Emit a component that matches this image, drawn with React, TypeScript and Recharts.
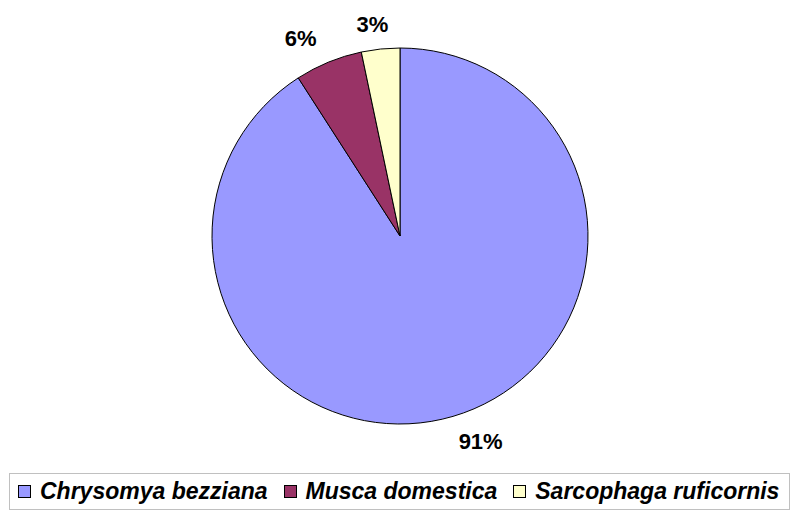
import React from "react";
import { PieChart, Pie, Cell, Legend } from "recharts";

const species = ["Chrysomya bezziana", "Musca domestica", "Sarcophaga ruficornis"];
const shares = [90.9, 5.8, 3.3];
const colors = ["#9999FF", "#993366", "#FFFFCC"];

const data = species.map((name, i) => ({ name, value: shares[i] }));

const RADIAN = Math.PI / 180;

const renderLabel = (props: any) => {
  const { cx, cy, startAngle, endAngle, outerRadius, percent } = props;
  const mid = (startAngle + endAngle) / 2;
  const text = `${Math.round(percent * 100)}%`;
  const halfW = ((text.length - 1) * 12.2 + 19.6) / 2;
  const halfH = 11;
  const rx = outerRadius + 32;
  const ry = outerRadius + 14;
  const c = Math.cos(-mid * RADIAN);
  const s = Math.sin(-mid * RADIAN);
  const x = cx + rx * c + halfW * Math.max(-1, Math.min(1, 3 * c));
  const y = cy + ry * s + halfH * Math.sign(s);
  return (
    <text
      x={x}
      y={y + 8}
      style={{ textAnchor: "middle" }}
      textAnchor="middle"
      fontFamily="Liberation Sans, Arial, sans-serif"
      fontWeight="bold"
      fontSize={22}
      fill="#000"
    >
      {text}
    </text>
  );
};

const renderLegend = () => (
  <div
    style={{
      position: "absolute",
      left: 9,
      top: 473,
      width: 781,
      height: 37,
      border: "1px solid #c0c0c0",
      boxSizing: "border-box",
      display: "flex",
      alignItems: "center",
      paddingLeft: 8,
      fontFamily: "Liberation Sans, Arial, sans-serif",
      fontWeight: "bold",
      fontStyle: "italic",
      fontSize: 23,
      color: "#000",
      whiteSpace: "nowrap",
    }}
  >
    {data.map((d, i) => (
      <span key={d.name} style={{ display: "flex", alignItems: "center", marginRight: 16 }}>
        <span
          style={{
            display: "inline-block",
            width: 13,
            height: 13,
            boxSizing: "border-box",
            background: colors[i],
            border: "1px solid #000",
            marginRight: 9,
          }}
        />
        {d.name}
      </span>
    ))}
  </div>
);

export default function App() {
  return (
    <div style={{ position: "absolute", left: 0, top: 0, width: 800, height: 516, background: "#fff" }}>
      <PieChart width={800} height={516} margin={{ top: 0, right: 0, bottom: 0, left: 0 }}>
        <Pie
          data={data}
          dataKey="value"
          nameKey="name"
          cx={400}
          cy={236}
          outerRadius={188}
          startAngle={90}
          endAngle={-270}
          stroke="#000"
          strokeWidth={1}
          label={renderLabel}
          labelLine={false}
          isAnimationActive={false}
        >
          {data.map((d, i) => (
            <Cell key={d.name} fill={colors[i]} />
          ))}
        </Pie>
        <Legend content={renderLegend} wrapperStyle={{ position: "absolute", left: 0, top: 0, width: 800, height: 516 }} />
      </PieChart>
    </div>
  );
}
